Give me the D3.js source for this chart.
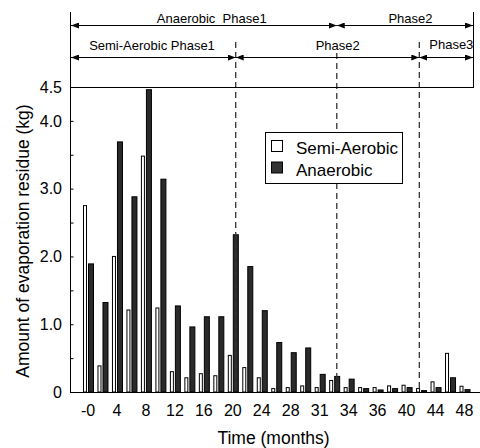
<!DOCTYPE html>
<html><head><meta charset="utf-8">
<script src="https://cdn.jsdelivr.net/npm/d3@7"></script>
<style>
html,body{margin:0;padding:0;background:#fff;}
svg text{font-family:"Liberation Sans",Arial,sans-serif;fill:#000;}
</style></head>
<body><svg id="c" width="480" height="448"></svg>
<script>
// ---- data ----
const categories = ["0","2","4","6","8","10","12","14","16","18","20","22","24","26","28","30","31","33","34","35","36","38","40","42","44","46","48"];
const semiAerobic = [2.75,0.385,2.0,1.21,3.48,1.24,0.30,0.21,0.27,0.24,0.54,0.36,0.21,0.05,0.065,0.09,0.065,0.17,0.065,0.065,0.065,0.09,0.10,0.05,0.15,0.57,0.085];
const anaerobic   = [1.89,1.32,3.69,2.88,4.46,3.14,1.27,0.96,1.11,1.11,2.32,1.85,1.20,0.73,0.58,0.65,0.26,0.23,0.19,0.05,0.03,0.05,0.065,0.02,0.065,0.21,0.035];
const tickCategories = ["0","4","8","12","16","20","24","28","31","34","36","40","44","48"];
const tickLabels     = ["-0","4","8","12","16","20","24","28","31","34","36","40","44","48"];
const yMajorTicks = [0,1,2,3,4,4.5];
const yMajorLabels = ["0","1.0","2.0","3.0","4.0","4.5"];
const yMinorTicks = [0.5,1.5,2.5,3.5];
// phase boundaries, in category-index units
const phaseBounds = [10.2, 17.18, 22.88];
const seriesNames = ["Semi-Aerobic","Anaerobic"];

// ---- layout ----
const L = 70, R = 473, T = 87, B = 392;
const svg = d3.select("#c");

const x = d3.scalePoint().domain(categories).range([L + 18, R - 8.5]);
const step = x.step();
const xi = i => x(categories[0]) + i * step;
const y = d3.scaleLinear().domain([0, 4.5]).range([B, T]);

// bars
const g = svg.append("g");
g.selectAll("rect.semi").data(semiAerobic).join("rect")
  .attr("class","semi")
  .attr("x",(d,i)=>x(categories[i]) - 4.5).attr("width",3)
  .attr("y",d=>y(d)).attr("height",d=>B - y(d))
  .attr("fill","#fff").attr("stroke","#000").attr("stroke-width",1);
g.selectAll("rect.ana").data(anaerobic).join("rect")
  .attr("class","ana")
  .attr("x",(d,i)=>x(categories[i]) + 0.5).attr("width",5)
  .attr("y",d=>y(d)).attr("height",d=>B - y(d))
  .attr("fill","#2a2a2a").attr("stroke","#000").attr("stroke-width",1);

// dashed phase lines
const dashTop = [42, 53, 42];
phaseBounds.forEach((b,k)=>{
  svg.append("line").attr("x1",xi(b)).attr("x2",xi(b)).attr("y1",dashTop[k]).attr("y2",B)
    .attr("stroke","#333").attr("stroke-width",1.3).attr("stroke-dasharray","6,4");
});

// axes frame
svg.append("line").attr("x1",L+0.5).attr("x2",L+0.5).attr("y1",12).attr("y2",B).attr("stroke","#000");
svg.append("line").attr("x1",R+0.5).attr("x2",R+0.5).attr("y1",12).attr("y2",T).attr("stroke","#000");
svg.append("line").attr("x1",L).attr("x2",R+1).attr("y1",T+0.5).attr("y2",T+0.5).attr("stroke","#000");
svg.append("line").attr("x1",L).attr("x2",480).attr("y1",B+0.5).attr("y2",B+0.5).attr("stroke","#000");

// y axis ticks (inward)
const yAxis = d3.axisRight(y).tickValues(yMajorTicks.filter(v=>v<4.5)).tickSize(3).tickFormat("");
const ya = svg.append("g").attr("transform",`translate(${L+0.5},0)`).call(yAxis);
ya.select(".domain").remove();
const yMin = d3.axisRight(y).tickValues(yMinorTicks).tickSize(3).tickFormat("");
const ym = svg.append("g").attr("transform",`translate(${L+0.5},0)`).call(yMin);
ym.select(".domain").remove();
svg.selectAll(".tick line").attr("stroke","#000");

svg.append("g").selectAll("text").data(yMajorTicks).join("text")
  .attr("x",62).attr("y",d=>y(d)).attr("dy","0.36em")
  .attr("text-anchor","end").attr("font-size",16)
  .text((d,i)=>yMajorLabels[i]);

// x tick labels
svg.append("g").selectAll("text").data(tickCategories).join("text")
  .attr("x",d=>x(d)).attr("y",416)
  .attr("text-anchor","middle").attr("font-size",16)
  .text((d,i)=>tickLabels[i]);

// axis titles
svg.append("text").attr("x",(L+R)/2 + 2).attr("y",444).attr("text-anchor","middle")
  .attr("font-size",17.5).text("Time (months)");
svg.append("text").attr("transform",`translate(28.5,241) rotate(-90)`).attr("text-anchor","middle")
  .attr("font-size",17.5).text("Amount of evaporation residue (kg)");

// legend
const lg = svg.append("g");
lg.append("rect").attr("x",265.5).attr("y",132.5).attr("width",137).attr("height",51)
  .attr("fill","#fff").attr("stroke","#000");
const legFill = ["#fff","#333"];
seriesNames.forEach((n,i)=>{
  lg.append("rect").attr("x",271.5).attr("y",140.5 + i*21.5).attr("width",11).attr("height",11)
    .attr("fill",legFill[i]).attr("stroke","#000");
  lg.append("text").attr("x",296).attr("y",154 + i*21.5).attr("font-size",17).text(n);
});

// header arrows
const defs = svg.append("defs");
defs.append("marker").attr("id","ah").attr("viewBox","0 0 8 6").attr("refX",8).attr("refY",3)
  .attr("markerWidth",8).attr("markerHeight",6).attr("markerUnits","userSpaceOnUse")
  .attr("orient","auto-start-reverse")
  .append("path").attr("d","M0,0 L8,3 L0,6 Z").attr("fill","#000");
function arrow(x1,x2,yy){
  svg.append("line").attr("x1",x1).attr("x2",x2).attr("y1",yy).attr("y2",yy)
    .attr("stroke","#000").attr("stroke-width",1.2)
    .attr("marker-start","url(#ah)").attr("marker-end","url(#ah)");
}
const row1 = 25.5, row2 = 57.5;
arrow(L+1, xi(phaseBounds[1]), row1);
arrow(xi(phaseBounds[1]), R, row1);
arrow(L+1, xi(phaseBounds[0]), row2);
arrow(xi(phaseBounds[0]), xi(phaseBounds[2]), row2);
arrow(xi(phaseBounds[2]), R, row2);

const hdr = [
  {t:"Anaerobic  Phase1", x:211.7, y:22.5},
  {t:"Phase2", x:410.5, y:22.5},
  {t:"Semi-Aerobic Phase1", x:152, y:50},
  {t:"Phase2", x:337.7, y:50},
  {t:"Phase3", x:451.3, y:48.5}
];
svg.append("g").selectAll("text").data(hdr).join("text")
  .attr("x",d=>d.x).attr("y",d=>d.y).attr("text-anchor","middle").attr("font-size",13)
  .style("white-space","pre").text(d=>d.t);
</script></body></html>
